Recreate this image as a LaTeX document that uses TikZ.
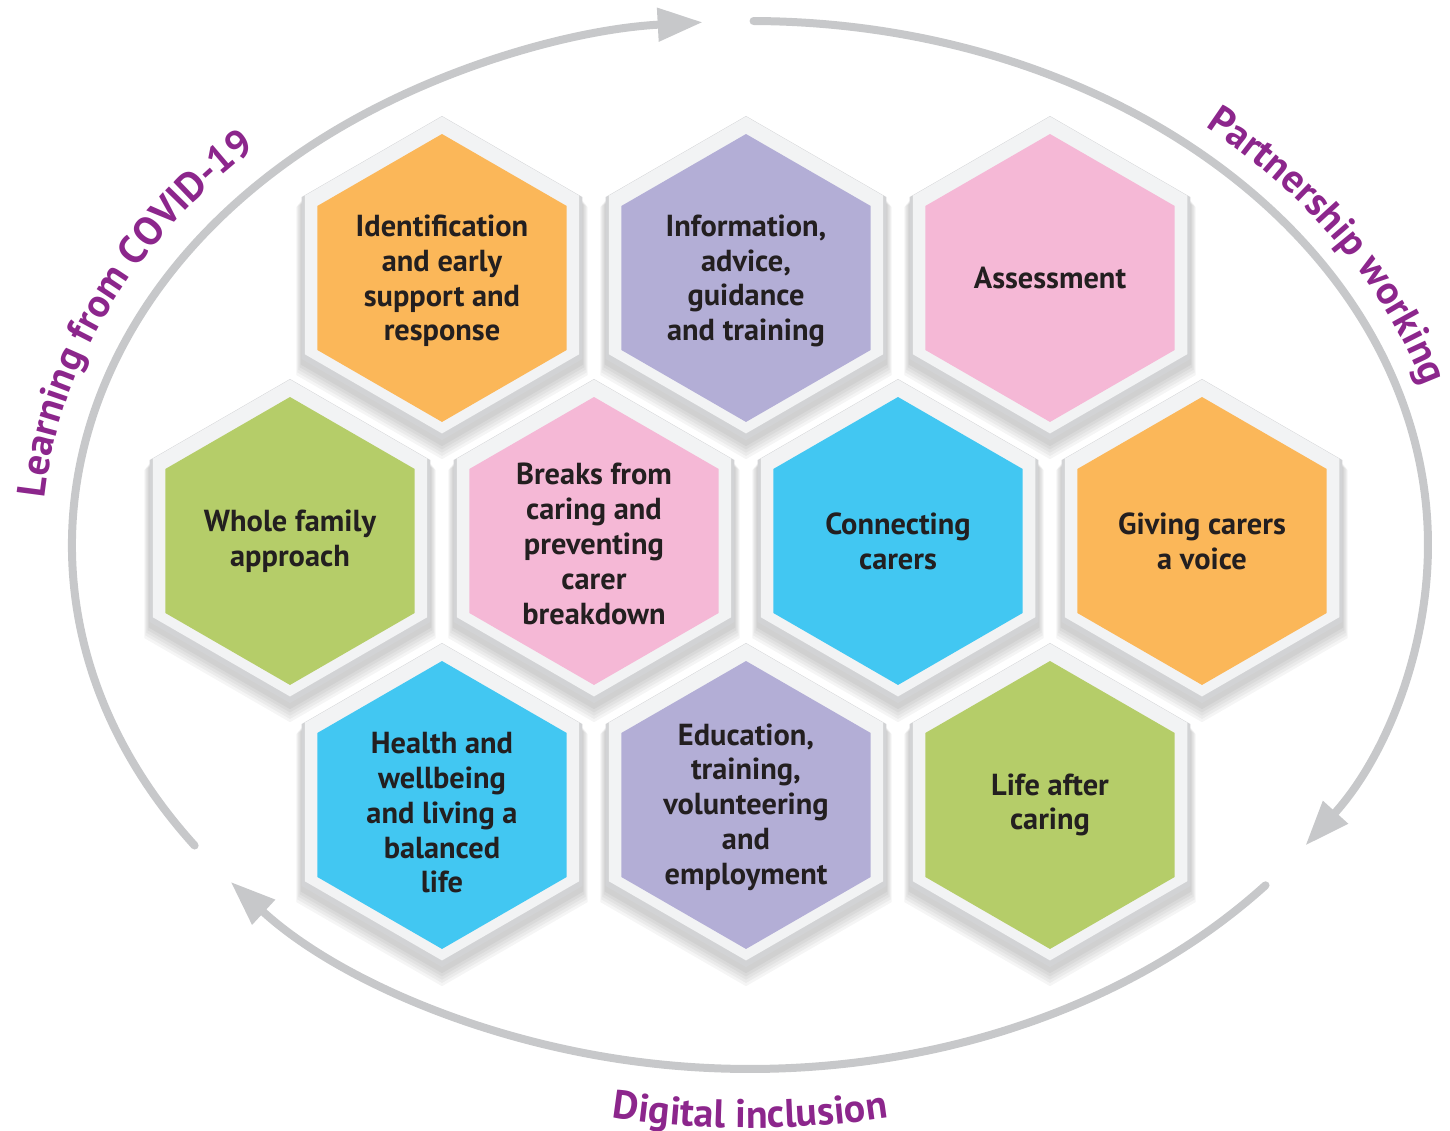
\documentclass[tikz,border=0pt]{standalone}
\usepackage{fontspec}
\setmainfont{PT Sans}
\usepackage{tikz}
\usetikzlibrary{arrows.meta}
\usetikzlibrary{shapes.geometric,decorations.text}
\definecolor{ringgray}{RGB}{199,200,202}
\definecolor{labelpurple}{RGB}{140,38,140}
\definecolor{celltext}{RGB}{35,31,32}
\definecolor{rimdark}{RGB}{210,211,213}
\definecolor{rimlight}{RGB}{242,243,244}
\definecolor{cellorange}{RGB}{251,183,89}
\definecolor{celllilac}{RGB}{179,174,214}
\definecolor{cellpink}{RGB}{245,184,214}
\definecolor{cellgreen}{RGB}{181,205,105}
\definecolor{cellblue}{RGB}{66,199,242}

\begin{document}
\begin{tikzpicture}[x=0.02cm, y=0.02cm]
  % Styles for the cells and the ring
  \tikzset{
    hexagon/.style={regular polygon, regular polygon sides=6, shape border rotate=30, inner sep=0pt, minimum size=#1},
    castshadow/.style={hexagon=#1, fill=black, opacity=0.04},
    rim/.style={hexagon=6.48cm, fill=rimdark},
    bezel/.style={hexagon=6.34cm, fill=rimlight},
    cell/.style={hexagon=5.76cm},
    celltext/.style={text=celltext, align=center, font=\bfseries\fontsize{17.3}{19.8}\selectfont},
    ringarc/.style={draw=ringgray, line width=0.16cm, line cap=round, -{Triangle[length=0.9cm, width=0.64cm]}},
    ringlabel/.style={decorate, decoration={text along path, text align=center, text color=labelpurple, text={|\bfseries\fontsize{22.7}{27}\selectfont|#1}}}
  }
  \useasboundingbox (0,0) rectangle (1450,1131);

  % Centre of the ring
  \coordinate (mid) at (750,586);

  % The ten cells of the honeycomb
  \foreach \nm/\cx/\cy/\dy/\col/\txt in {
      ident/442/853/-3/cellorange/{Identification\\and early\\support and\\response},
      info/746/853/-3/celllilac/{Information,\\advice,\\guidance\\and training},
      assess/1050/853/0/cellpink/{Assessment},
      whole/290/590/0/cellgreen/{Whole family\\approach},
      breaks/594/590/-3/cellpink/{Breaks from\\caring and\\preventing\\carer\\breakdown},
      connect/898/590/0/cellblue/{Connecting\\carers},
      voice/1202/590/0/cellorange/{Giving carers\\a voice},
      health/442/326/-8/cellblue/{Health and\\wellbeing\\and living a\\balanced\\life},
      educ/746/326/-2/celllilac/{Education,\\training,\\volunteering\\and\\employment},
      life/1050/326/0/cellgreen/{Life after\\caring}} {
    \foreach \s in {1,...,5}
      \node[castshadow={6.48cm+0.05cm*\s}] at (\cx,\cy-3-2*\s) {};
    \node[rim] at (\cx,\cy) {};
    \node[bezel] at (\cx,\cy+3) {};
    \node[cell, fill=\col] (\nm) at (\cx,\cy) {};
    \node[celltext] (\nm-text) at (\cx,\cy+\dy) {\txt};
  }

  % Arrows round the honeycomb
  \draw[ringarc] (mid) ++(215:678 and 524) arc[start angle=215, end angle=94, x radius=678, y radius=524];
  \draw[ringarc] (mid) ++(89.7:678 and 524) arc[start angle=89.7, end angle=-35, x radius=678, y radius=524];
  \draw[ringarc] (mid) ++(-40.5:678 and 524) arc[start angle=-40.5, end angle=-140, x radius=678, y radius=524];

  % Labels along the ring
  \path[ringlabel={Learning from COVID-19}] (mid) ++(211:708 and 554) arc[start angle=211, end angle=104, x radius=708, y radius=554];
  \path[ringlabel={Partnership working}] (mid) ++(89:703 and 549) arc[start angle=89, end angle=-31, x radius=703, y radius=549];
  \path[ringlabel={Digital inclusion}] (mid) ++(240:737 and 583) arc[start angle=240, end angle=300, x radius=737, y radius=583];
\end{tikzpicture}
\end{document}
